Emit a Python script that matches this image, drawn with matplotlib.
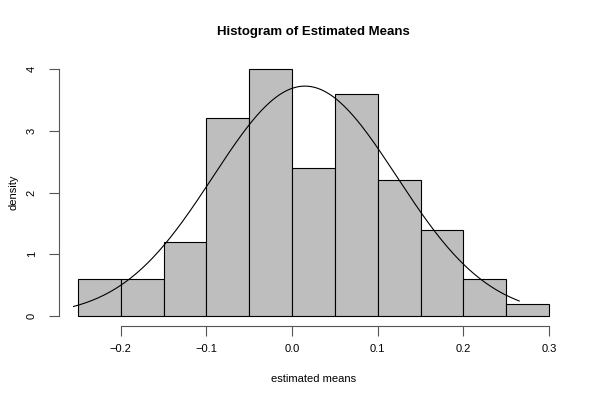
import matplotlib

matplotlib.use("Agg")
import matplotlib.pyplot as plt
import numpy as np

# histogram of estimated means (density scale)
bin_edges = [-0.25, -0.20, -0.15, -0.10, -0.05, 0.00, 0.05, 0.10, 0.15, 0.20, 0.25, 0.30]
densities = [0.6, 0.6, 1.2, 3.2, 4.0, 2.4, 3.6, 2.2, 1.4, 0.6, 0.2]

# fitted normal curve
fit_mean = 0.015
fit_sd = 0.1072
curve_range = (-0.255, 0.265)

x_ticks = [-0.2, -0.1, 0.0, 0.1, 0.2, 0.3]
x_ticklabels = ["\u22120.2", "\u22120.1", "0.0", "0.1", "0.2", "0.3"]
y_ticks = [0, 1, 2, 3, 4]

plt.rcParams["font.family"] = ["Liberation Sans", "DejaVu Sans"]

fig = plt.figure(figsize=(6, 4), dpi=100)
ax = fig.add_axes([0.0983, 0.185, 0.8484, 0.6675])

lefts = np.array(bin_edges[:-1])
widths = np.diff(bin_edges)
ax.bar(lefts, densities, width=widths, align="edge", color="#bebebe",
       edgecolor="black", linewidth=0.8)

xs = np.linspace(curve_range[0], curve_range[1], 300)
ys = np.exp(-0.5 * ((xs - fit_mean) / fit_sd) ** 2) / (fit_sd * np.sqrt(2 * np.pi))
ax.plot(xs, ys, color="black", lw=0.8)

ax.set_xlim(-0.272, 0.322)
ax.set_ylim(-0.16, 4.16)

for side in ("top", "right"):
    ax.spines[side].set_visible(False)
ax.spines["bottom"].set_bounds(-0.2, 0.3)
ax.spines["left"].set_bounds(0, 4)
ax.spines["bottom"].set_color("#555555")
ax.spines["left"].set_color("#555555")

ax.set_xticks(x_ticks)
ax.set_xticklabels(x_ticklabels)
ax.set_yticks(y_ticks)
ax.set_yticklabels([str(v) for v in y_ticks], rotation=90, va="center")
ax.tick_params(axis="x", labelsize=8, length=7, width=0.8, color="#555555", pad=6)
ax.tick_params(axis="y", labelsize=8, length=7, width=0.8, color="#555555", pad=9)

ax.set_xlabel("estimated means", fontsize=8, labelpad=14)
ax.set_ylabel("density", fontsize=8, labelpad=6)
ax.set_title("Histogram of Estimated Means", fontsize=9.5, fontweight="bold", pad=17)

fig.savefig("out.png", dpi=100)
